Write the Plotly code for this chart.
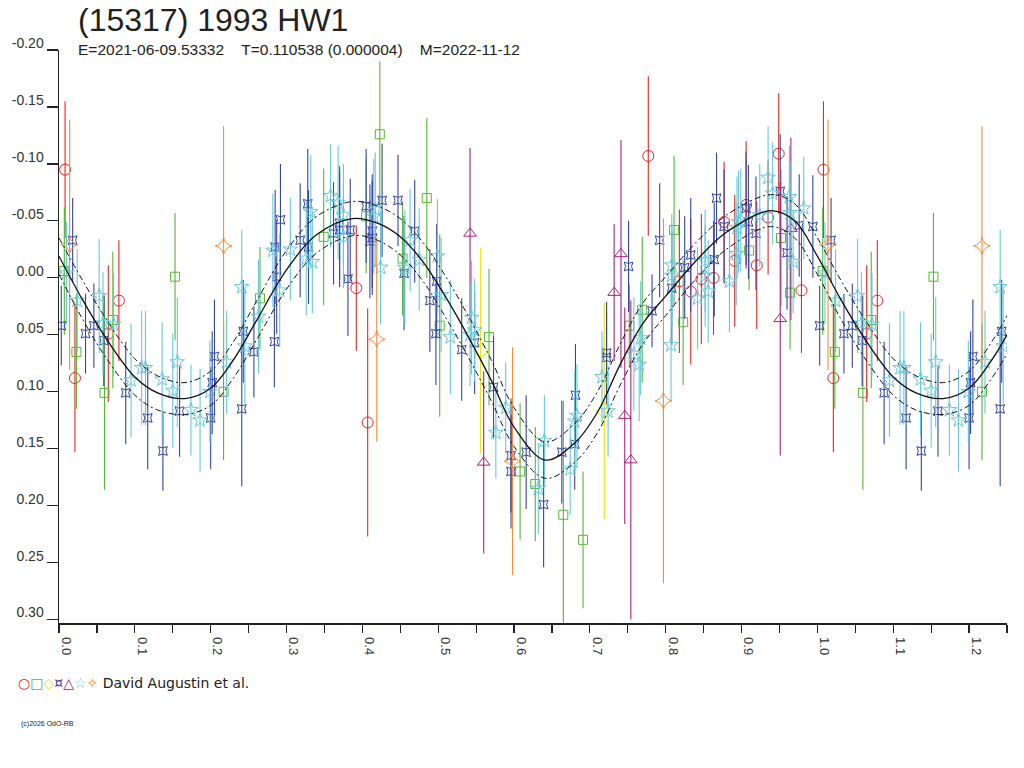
import plotly.graph_objects as go

# ---------------- data (phase, magnitude, error) ----------------
red_phase = [0.008, 0.021, 0.065, 0.079, 0.392, 0.407, 0.777, 0.818, 0.833, 0.847, 0.863,
             0.877, 0.891, 0.906, 0.920, 0.935, 0.949, 0.979]
red_mag = [-0.095, 0.088, 0.049, 0.020, 0.009, 0.127, -0.107, 0.003, 0.012, 0.001, 0.000,
           -0.049, -0.015, -0.064, -0.011, -0.053, -0.109, 0.011]
red_err = [0.060, 0.065, 0.060, 0.053, 0.055, 0.100, 0.070, 0.063, 0.064, 0.057, 0.050,
           0.053, 0.058, 0.056, 0.056, 0.050, 0.053, 0.055]

green_phase = [0.007, 0.023, 0.060, 0.071, 0.153, 0.217, 0.265, 0.349, 0.405, 0.423, 0.453,
               0.485, 0.502, 0.567, 0.608, 0.628, 0.665, 0.691, 0.752, 0.769, 0.811, 0.823,
               0.910, 0.952, 0.964]
green_mag = [-0.006, 0.065, 0.101, 0.037, -0.001, 0.100, 0.018, -0.036, -0.054, -0.126, -0.017,
             -0.070, 0.042, 0.052, 0.170, 0.181, 0.208, 0.230, 0.042, 0.028, -0.042, 0.039,
             -0.024, -0.035, 0.013]
green_err = [0.056, 0.050, 0.085, 0.060, 0.056, 0.060, 0.045, 0.060, 0.050, 0.064, 0.050,
             0.070, 0.080, 0.060, 0.060, 0.050, 0.100, 0.060, 0.036, 0.064, 0.065, 0.055,
             0.035, 0.060, 0.050]

yellow_phase = [0.556, 0.719]
yellow_mag = [0.064, 0.117]
yellow_err = [0.090, 0.095]

blue_phase = [0.003, 0.018, 0.035, 0.046, 0.059, 0.088, 0.117, 0.137, 0.159, 0.200, 0.202,
              0.205, 0.241, 0.243, 0.257, 0.284, 0.285, 0.287, 0.292, 0.318, 0.328, 0.329,
              0.362, 0.370, 0.370, 0.381, 0.384, 0.405, 0.410, 0.413, 0.413, 0.426, 0.447,
              0.455, 0.469, 0.489, 0.497, 0.498, 0.531, 0.548, 0.573, 0.596, 0.596, 0.616,
              0.639, 0.663, 0.680, 0.681, 0.722, 0.722, 0.751, 0.782, 0.792, 0.808, 0.825,
              0.833, 0.864, 0.867, 0.877, 0.906, 0.909, 0.919, 0.951, 0.960, 0.976, 0.994]
blue_mag = [0.042, -0.033, 0.049, 0.042, 0.055, 0.101, 0.123, 0.152, 0.117, 0.123, 0.092,
            0.069, 0.115, 0.047, 0.065, 0.056, -0.027, -0.001, -0.051, -0.033, -0.065, -0.027,
            -0.039, -0.048, -0.042, 0.001, -0.042, -0.063, -0.032, -0.041, -0.035, -0.068, -0.068,
            -0.004, -0.041, 0.020, 0.049, 0.003, 0.063, 0.057, 0.096, 0.156, 0.170, 0.153,
            0.199, 0.153, 0.146, 0.103, 0.066, 0.070, -0.010, 0.029, -0.033, 0.009, -0.009,
            -0.020, -0.016, -0.070, -0.045, -0.061, -0.049, -0.039, -0.076, -0.022, -0.046, -0.045]
blue_err = [0.035, 0.037, 0.035, 0.037, 0.040, 0.045, 0.045, 0.035, 0.040, 0.045, 0.045,
            0.050, 0.068, 0.045, 0.040, 0.040, 0.050, 0.050, 0.049, 0.050, 0.048, 0.050,
            0.045, 0.050, 0.050, 0.050, 0.045, 0.050, 0.050, 0.050, 0.050, 0.050, 0.040,
            0.050, 0.045, 0.045, 0.045, 0.050, 0.045, 0.045, 0.045, 0.050, 0.050, 0.050,
            0.055, 0.045, 0.040, 0.045, 0.045, 0.040, 0.040, 0.032, 0.050, 0.050, 0.045,
            0.050, 0.050, 0.040, 0.050, 0.050, 0.050, 0.050, 0.050, 0.050, 0.045, 0.045]

magenta_phase = [0.542, 0.560, 0.732, 0.741, 0.746, 0.754, 0.951, 0.965]
magenta_mag = [-0.039, 0.162, 0.013, -0.021, 0.121, 0.160, 0.036, -0.043]
magenta_err = [0.075, 0.080, 0.060, 0.100, 0.095, 0.140, 0.120, 0.080]

cyan_phase = [0.010, 0.024, 0.053, 0.058, 0.072, 0.095, 0.109, 0.114, 0.136, 0.150, 0.156,
              0.174, 0.186, 0.199, 0.221, 0.241, 0.245, 0.263, 0.282, 0.291, 0.305, 0.326,
              0.332, 0.334, 0.358, 0.368, 0.375, 0.375, 0.415, 0.417, 0.424, 0.456, 0.463,
              0.475, 0.499, 0.504, 0.516, 0.542, 0.544, 0.548, 0.576, 0.589, 0.632, 0.640,
              0.674, 0.680, 0.683, 0.716, 0.724, 0.758, 0.765, 0.767, 0.807, 0.808, 0.808,
              0.842, 0.852, 0.852, 0.856, 0.884, 0.893, 0.894, 0.896, 0.899, 0.924, 0.935,
              0.941, 0.963, 0.964, 0.968, 0.982]
cyan_mag = [-0.004, 0.020, 0.016, 0.040, 0.041, 0.090, 0.079, 0.079, 0.089, 0.099, 0.074,
            0.116, 0.125, 0.100, 0.074, 0.008, 0.060, 0.034, -0.024, 0.011, -0.025, -0.017,
            -0.058, -0.014, -0.072, -0.066, -0.055, -0.036, -0.054, -0.060, -0.009, -0.009, -0.033,
            -0.016, -0.019, 0.015, 0.052, 0.050, 0.035, 0.046, 0.136, 0.114, 0.185, 0.143,
            0.168, 0.126, 0.121, 0.087, 0.117, 0.067, 0.076, 0.053, 0.059, -0.011, -0.002,
            0.018, -0.015, -0.002, 0.012, 0.003, -0.021, -0.044, -0.049, -0.051, -0.055, -0.088,
            -0.074, -0.071, -0.057, -0.014, -0.061]
cyan_err = [0.045, 0.045, 0.050, 0.045, 0.045, 0.050, 0.050, 0.050, 0.050, 0.050, 0.057,
            0.040, 0.045, 0.045, 0.045, 0.050, 0.050, 0.050, 0.050, 0.050, 0.045, 0.050,
            0.050, 0.045, 0.045, 0.050, 0.045, 0.045, 0.050, 0.050, 0.050, 0.050, 0.045,
            0.045, 0.050, 0.050, 0.050, 0.045, 0.050, 0.045, 0.040, 0.040, 0.040, 0.040,
            0.040, 0.045, 0.045, 0.040, 0.040, 0.050, 0.050, 0.050, 0.050, 0.045, 0.045,
            0.045, 0.045, 0.045, 0.045, 0.045, 0.045, 0.045, 0.045, 0.045, 0.045, 0.045,
            0.045, 0.045, 0.045, 0.045, 0.045]

orange_phase = [0.014, 0.217, 0.419, 0.598, 0.797]
orange_mag = [-0.029, -0.028, 0.054, 0.161, 0.108]
orange_err = [0.110, 0.105, 0.090, 0.100, 0.160]

# fitted curve
fit_phase = [0.00, 0.03, 0.06, 0.10, 0.13, 0.166, 0.20, 0.23, 0.26, 0.30, 0.34, 0.387, 0.42,
             0.45, 0.48, 0.51, 0.54, 0.57, 0.60, 0.641, 0.68, 0.71, 0.74, 0.77, 0.80, 0.84,
             0.88, 0.938, 0.97, 1.00]
fit_mag = [-0.019, 0.018, 0.051, 0.087, 0.101, 0.106, 0.097, 0.072, 0.038, -0.007, -0.038,
           -0.052, -0.048, -0.036, -0.014, 0.017, 0.052, 0.090, 0.131, 0.160, 0.145, 0.118,
           0.076, 0.040, 0.016, -0.015, -0.040, -0.059, -0.050, -0.019]
fit_env = [0.016, 0.017, 0.017, 0.016, 0.015, 0.014, 0.015, 0.016, 0.017, 0.017, 0.016,
           0.015, 0.015, 0.016, 0.017, 0.018, 0.018, 0.018, 0.017, 0.016, 0.017, 0.018,
           0.018, 0.018, 0.017, 0.016, 0.015, 0.014, 0.015, 0.016]

x_ticks = [0.0, 0.1, 0.2, 0.3, 0.4, 0.5, 0.6, 0.7, 0.8, 0.9, 1.0, 1.1, 1.2]
y_ticks = [-0.20, -0.15, -0.10, -0.05, 0.00, 0.05, 0.10, 0.15, 0.20, 0.25, 0.30]


def wrap(ph, mg, er, limit=0.25, strict=True):
    P, M, E = list(ph), list(mg), list(er)
    for p, m, e in zip(ph, mg, er):
        if (p < limit if strict else p <= limit) and not (not strict and p == 0):
            P.append(p + 1.0)
            M.append(m)
            E.append(e)
    return P, M, E


series = [
    ("red", red_phase, red_mag, red_err, "circle-open", "#ee2222", 11),
    ("green", green_phase, green_mag, green_err, "square-open", "#55b833", 9),
    ("yellow", yellow_phase, yellow_mag, yellow_err, "diamond-open", "#f0e000", 12),
    ("blue", blue_phase, blue_mag, blue_err, "star-square-open", "#3344aa", 8),
    ("magenta", magenta_phase, magenta_mag, magenta_err, "triangle-up-open", "#aa2277", 11),
    ("cyan", cyan_phase, cyan_mag, cyan_err, "star-open", "#66c8dc", 11),
    ("orange", orange_phase, orange_mag, orange_err, "star-diamond-open", "#ff8833", 12),
]

fig = go.Figure()
for name, ph, mg, er, sym, col, sz in series:
    P, M, E = wrap(ph, mg, er)
    fig.add_trace(go.Scatter(
        x=P, y=M, mode="markers", name=name, showlegend=False,
        marker=dict(symbol=sym, color=col, size=sz, line=dict(color=col, width=1)),
        error_y=dict(type="data", array=E, symmetric=True, color=col, thickness=1.1, width=0),
    ))

FP, FM, FE = wrap(fit_phase, fit_mag, fit_env, limit=0.26, strict=False)
order = sorted(range(len(FP)), key=lambda i: FP[i])
FP = [FP[i] for i in order]
FM = [FM[i] for i in order]
FE = [FE[i] for i in order]
fig.add_trace(go.Scatter(x=FP, y=[m - e for m, e in zip(FM, FE)], mode="lines", showlegend=False,
                         line=dict(color="#111", width=1, dash="6px,3px,2px,3px", shape="spline")))
fig.add_trace(go.Scatter(x=FP, y=[m + e for m, e in zip(FM, FE)], mode="lines", showlegend=False,
                         line=dict(color="#111", width=1, dash="6px,3px,2px,3px", shape="spline")))
fig.add_trace(go.Scatter(x=FP, y=FM, mode="lines", showlegend=False,
                         line=dict(color="#111", width=1.3, shape="spline")))

# page pixel geometry (body margin removed by post_script)
OFF = 0
FW, FH = 1024 - OFF, 768 - OFF
L, R, T, B = 59.3, 1006.7, 50.0, 623.0
W, H = R - L, B - T


def px(x):
    return (x - L) / W


def py(y):
    return (B - y) / H


fig.update_layout(
    width=FW, height=FH,
    margin=dict(l=L - OFF, r=FW - (R - OFF), t=T - OFF, b=FH - (B - OFF), pad=0,
                autoexpand=False),
    paper_bgcolor="white", plot_bgcolor="white",
    font=dict(family="Liberation Sans, Arial, sans-serif", color="#333"),
    hovermode=False,
    xaxis=dict(range=[0, 1.25], tickvals=x_ticks, ticktext=[f"{v:.1f}" for v in x_ticks],
               automargin=False,
               showgrid=False, zeroline=False, showline=True, linecolor="#222", linewidth=1.5,
               ticks="outside", ticklen=8, tickwidth=1.2, tickcolor="#222", tickangle=90,
               tickfont=dict(size=13, color="#333"), ticklabelshift=7, ticklabelstandoff=2,
               minor=dict(dtick=0.05, tick0=0, ticks="outside", ticklen=8, tickwidth=1.2,
                          tickcolor="#222")),
    yaxis=dict(range=[0.303, -0.20], tickvals=y_ticks, ticktext=[f"{v:.2f}" for v in y_ticks],
               automargin=False,
               showgrid=False, zeroline=False, showline=True, linecolor="#222", linewidth=1.5,
               ticks="outside", ticklen=11, tickwidth=1.2, tickcolor="#222",
               tickfont=dict(size=14, color="#333"), ticklabelshift=7, ticklabelstandoff=0),
    annotations=[
        dict(text="(15317) 1993 HW1", x=px(76), y=py(20.5), xref="paper", yref="paper",
             xanchor="left", yanchor="middle", showarrow=False,
             font=dict(size=32, color="#222")),
        dict(text="E=2021-06-09.53332&nbsp;&nbsp;&nbsp;&nbsp;T=0.110538 (0.000004)&nbsp;&nbsp;&nbsp;&nbsp;M=2022-11-12",
             x=px(76), y=py(49), xref="paper", yref="paper", xanchor="left", yanchor="middle",
             showarrow=False, font=dict(size=15.5, color="#222")),
        dict(text=("<span style='color:#ee2222'>○</span><span style='color:#55b833'>□</span>"
                   "<span style='color:#f0e000'>◇</span><span style='color:#3344aa'>¤</span>"
                   "<span style='color:#aa2277'>△</span><span style='color:#66c8dc'>☆</span>"
                   "<span style='color:#ff8833'>✧</span> David Augustin et al."),
             x=px(16), y=py(683), xref="paper", yref="paper", xanchor="left", yanchor="middle",
             showarrow=False, font=dict(size=14, color="#222", family="DejaVu Sans, Liberation Sans")),
        dict(text="(c)2026 OdO-RB", x=px(19), y=py(724), xref="paper", yref="paper",
             xanchor="left", yanchor="middle", showarrow=False,
             font=dict(size=7, color="#222")),
    ],
)

fig.write_html("out.html", config={"displayModeBar": False, "staticPlot": True},
               post_script="document.body.style.margin='0px';document.body.style.overflow='hidden';")
